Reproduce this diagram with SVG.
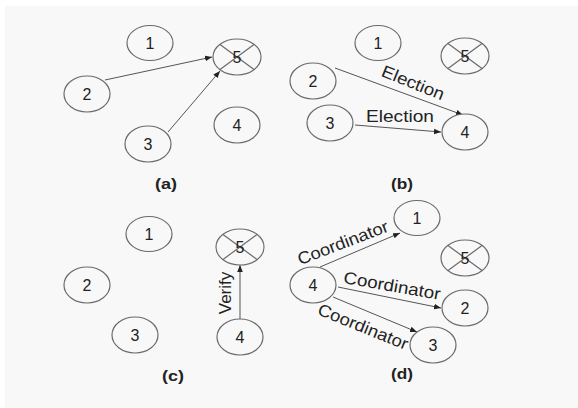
<svg xmlns="http://www.w3.org/2000/svg" width="578" height="408" viewBox="0 0 578 408">
<defs>
<style>
.n ellipse{fill:#f8f8f8;stroke:#6a6a6a;stroke-width:1.2}
.n text{font-family:"Liberation Sans",Arial,sans-serif;font-size:16px;fill:#222;text-anchor:middle;dominant-baseline:central}
.e line{stroke:#555;stroke-width:1;marker-end:url(#ah)}
.lbl{font-family:"Liberation Sans",Arial,sans-serif;font-size:17px;fill:#222;text-anchor:middle;dominant-baseline:central}
.cap{font-family:"Liberation Sans",Arial,sans-serif;font-size:15px;font-weight:bold;fill:#222;text-anchor:middle;dominant-baseline:central}
</style>
<marker id="ah" viewBox="0 0 10 10" refX="10" refY="5" markerWidth="7" markerHeight="7" orient="auto" markerUnits="userSpaceOnUse">
<path d="M0,1 L10,5 L0,9 Z" fill="#222"/>
</marker>
<g id="x" stroke="#6a6a6a" stroke-width="1.2"><line x1="-17" y1="-12.4" x2="17" y2="12.4"/><line x1="-17" y1="12.4" x2="17" y2="-12.4"/></g>
</defs>
<rect x="0" y="0" width="578" height="408" fill="#ffffff"/>
<rect x="5" y="6" width="573" height="402" fill="#f8f8f8"/>

<g id="connectors" class="e">
<line x1="105" y1="80" x2="212" y2="57"/>
<line x1="168" y1="132" x2="220" y2="71"/>
<line x1="335" y1="68" x2="463" y2="115"/>
<line x1="355" y1="125" x2="441" y2="132"/>
<line x1="240" y1="319" x2="240" y2="265"/>
<line x1="320" y1="267" x2="400" y2="233"/>
<line x1="338" y1="287" x2="441" y2="308"/>
<line x1="333" y1="297" x2="417" y2="332"/>
</g>

<g id="a1" class="n"><ellipse cx="150" cy="43" rx="23" ry="17.5"/><text x="150" y="43">1</text></g>
<g id="a5" class="n"><ellipse cx="237" cy="57" rx="24" ry="18"/><use href="#x" x="237" y="57"/><text x="237" y="57">5</text></g>
<g id="a2" class="n"><ellipse cx="87" cy="94" rx="23" ry="18"/><text x="87" y="94">2</text></g>
<g id="a3" class="n"><ellipse cx="148" cy="144" rx="23" ry="18"/><text x="148" y="144">3</text></g>
<g id="a4" class="n"><ellipse cx="237" cy="125" rx="23" ry="18"/><text x="237" y="125">4</text></g>
<text class="cap" x="166" y="183" textLength="22" lengthAdjust="spacingAndGlyphs">(a)</text>

<g id="b1" class="n"><ellipse cx="378" cy="43" rx="23" ry="17.5"/><text x="378" y="43">1</text></g>
<g id="b5" class="n"><ellipse cx="465" cy="56" rx="24" ry="18"/><use href="#x" x="465" y="56"/><text x="465" y="56">5</text></g>
<g id="b2" class="n"><ellipse cx="313" cy="81" rx="23" ry="18"/><text x="313" y="81">2</text></g>
<g id="b3" class="n"><ellipse cx="330" cy="123" rx="23" ry="18"/><text x="330" y="123">3</text></g>
<g id="b4" class="n"><ellipse cx="465" cy="132" rx="23" ry="18"/><text x="465" y="132">4</text></g>
<text class="lbl" x="413" y="83" transform="rotate(22 413 83)" textLength="66" lengthAdjust="spacingAndGlyphs">Election</text>
<text class="lbl" x="400" y="116" textLength="68" lengthAdjust="spacingAndGlyphs">Election</text>
<text class="cap" x="402" y="183" textLength="22" lengthAdjust="spacingAndGlyphs">(b)</text>

<g id="c1" class="n"><ellipse cx="149" cy="234" rx="23" ry="17.5"/><text x="149" y="234">1</text></g>
<g id="c2" class="n"><ellipse cx="87" cy="285" rx="23" ry="18"/><text x="87" y="285">2</text></g>
<g id="c3" class="n"><ellipse cx="135" cy="335" rx="23" ry="18"/><text x="135" y="335">3</text></g>
<g id="c5" class="n"><ellipse cx="240" cy="247" rx="24" ry="18"/><use href="#x" x="240" y="247"/><text x="240" y="247">5</text></g>
<g id="c4" class="n"><ellipse cx="240" cy="337" rx="23" ry="18"/><text x="240" y="337">4</text></g>
<text class="lbl" x="225" y="293" transform="rotate(-90 225 293)">Verify</text>
<text class="cap" x="173" y="375" textLength="22" lengthAdjust="spacingAndGlyphs">(c)</text>

<g id="d1" class="n"><ellipse cx="417" cy="218" rx="23" ry="17.5"/><text x="417" y="218">1</text></g>
<g id="d5" class="n"><ellipse cx="465" cy="258" rx="24" ry="18"/><use href="#x" x="465" y="258"/><text x="465" y="258">5</text></g>
<g id="d4" class="n"><ellipse cx="313" cy="285" rx="23" ry="18"/><text x="313" y="285">4</text></g>
<g id="d2" class="n"><ellipse cx="465" cy="308" rx="23" ry="18"/><text x="465" y="308">2</text></g>
<g id="d3" class="n"><ellipse cx="433" cy="345" rx="23" ry="18"/><text x="433" y="345">3</text></g>
<text class="lbl" x="343" y="243" transform="rotate(-21 343 243)" textLength="96" lengthAdjust="spacingAndGlyphs">Coordinator</text>
<text class="lbl" x="392" y="286" transform="rotate(10 392 286)" textLength="98" lengthAdjust="spacingAndGlyphs">Coordinator</text>
<text class="lbl" x="363" y="327" transform="rotate(22 363 327)" textLength="96" lengthAdjust="spacingAndGlyphs">Coordinator</text>
<text class="cap" x="402" y="373" textLength="22" lengthAdjust="spacingAndGlyphs">(d)</text>
</svg>
